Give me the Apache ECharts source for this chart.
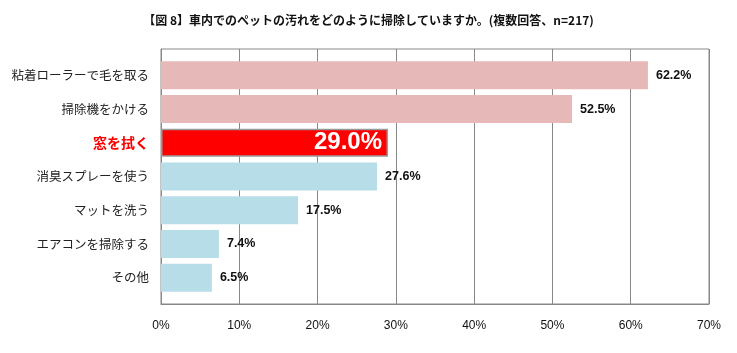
<!DOCTYPE html>
<html>
<head>
<meta charset="utf-8">
<script src="https://cdn.jsdelivr.net/npm/echarts@6/dist/echarts.min.js"></script>
<style>
  html, body { margin: 0; padding: 0; background: #fff; }
  #main { width: 737px; height: 353px; }
</style>
</head>
<body>
<div id="main"></div>
<script>
// 項目
var categories = ['粘着ローラーで毛を取る', '掃除機をかける', '窓を拭く', '消臭スプレーを使う', 'マットを洗う', 'エアコンを掃除する', 'その他'];
// 割合(%)
var values = [62.2, 52.5, 29.0, 27.6, 17.5, 7.4, 6.5];
var barColors = ['#e6b9b8', '#e6b9b8', '#ff0000', '#b7dde8', '#b7dde8', '#b7dde8', '#b7dde8'];
var highlight = 2; // 窓を拭く

var jpFont = '"Noto Sans CJK JP", sans-serif';
var numFont = '"Liberation Sans Narrow", "Liberation Sans", Arial, sans-serif';

var chart = echarts.init(document.getElementById('main'));

chart.setOption({
    animation: false,
    title: {
        text: '【図 8】車内でのペットの汚れをどのように掃除していますか。(複数回答、n=217)',
        left: 'center',
        top: 9,
        textStyle: { fontFamily: jpFont, fontSize: 12, fontWeight: 'bold', color: '#111' }
    },
    // grid 0 = 枠と目盛り, grid 1 = 棒
    grid: [
        { left: 161, right: 28, top: 49, bottom: 49, show: true, borderColor: '#888', borderWidth: 1, backgroundColor: 'transparent' },
        { left: 161, right: 28, top: 58.5, bottom: 58.5 }
    ],
    xAxis: [{
        gridIndex: 0,
        type: 'value',
        min: 0,
        max: 70,
        interval: 10,
        axisLine: { show: true, lineStyle: { color: '#888' } },
        axisTick: { show: false },
        splitLine: { show: true, lineStyle: { color: '#888', width: 1 } },
        axisLabel: {
            formatter: '{value}%',
            margin: 16,
            fontFamily: numFont,
            fontSize: 12,
            color: '#111'
        }
    }, {
        gridIndex: 1,
        type: 'value',
        min: 0,
        max: 70,
        show: false
    }],
    yAxis: [{
        gridIndex: 0,
        type: 'category',
        data: [''],
        axisLine: { show: true, lineStyle: { color: '#888' } },
        axisTick: { show: false },
        axisLabel: { show: false }
    }, {
        gridIndex: 1,
        type: 'category',
        data: categories,
        inverse: true,
        axisLine: { show: false },
        axisTick: { show: false },
        axisLabel: {
            margin: 12,
            fontFamily: jpFont,
            fontSize: 12.5,
            color: '#222',
            formatter: function (v, i) {
                return i === highlight ? '{hl|' + v + '}' : v;
            },
            rich: {
                hl: { fontFamily: jpFont, fontSize: 14, fontWeight: 'bold', color: '#ff0000' }
            }
        }
    }],
    series: [{
        type: 'bar',
        xAxisIndex: 1,
        yAxisIndex: 1,
        barCategoryGap: '17%',
        data: values.map(function (v, i) {
            var item = { value: v, itemStyle: { color: barColors[i] } };
            if (i === highlight) {
                item.itemStyle.borderColor = '#999';
                item.itemStyle.borderWidth = 1.5;
                item.label = {
                    position: 'insideRight',
                    distance: 6,
                    fontSize: 24,
                    color: '#fff'
                };
            }
            return item;
        }),
        label: {
            show: true,
            position: 'right',
            distance: 8,
            fontFamily: numFont,
            fontSize: 12.5,
            fontWeight: 'bold',
            color: '#111',
            formatter: function (p) { return p.value.toFixed(1) + '%'; }
        }
    }]
});
</script>
</body>
</html>
